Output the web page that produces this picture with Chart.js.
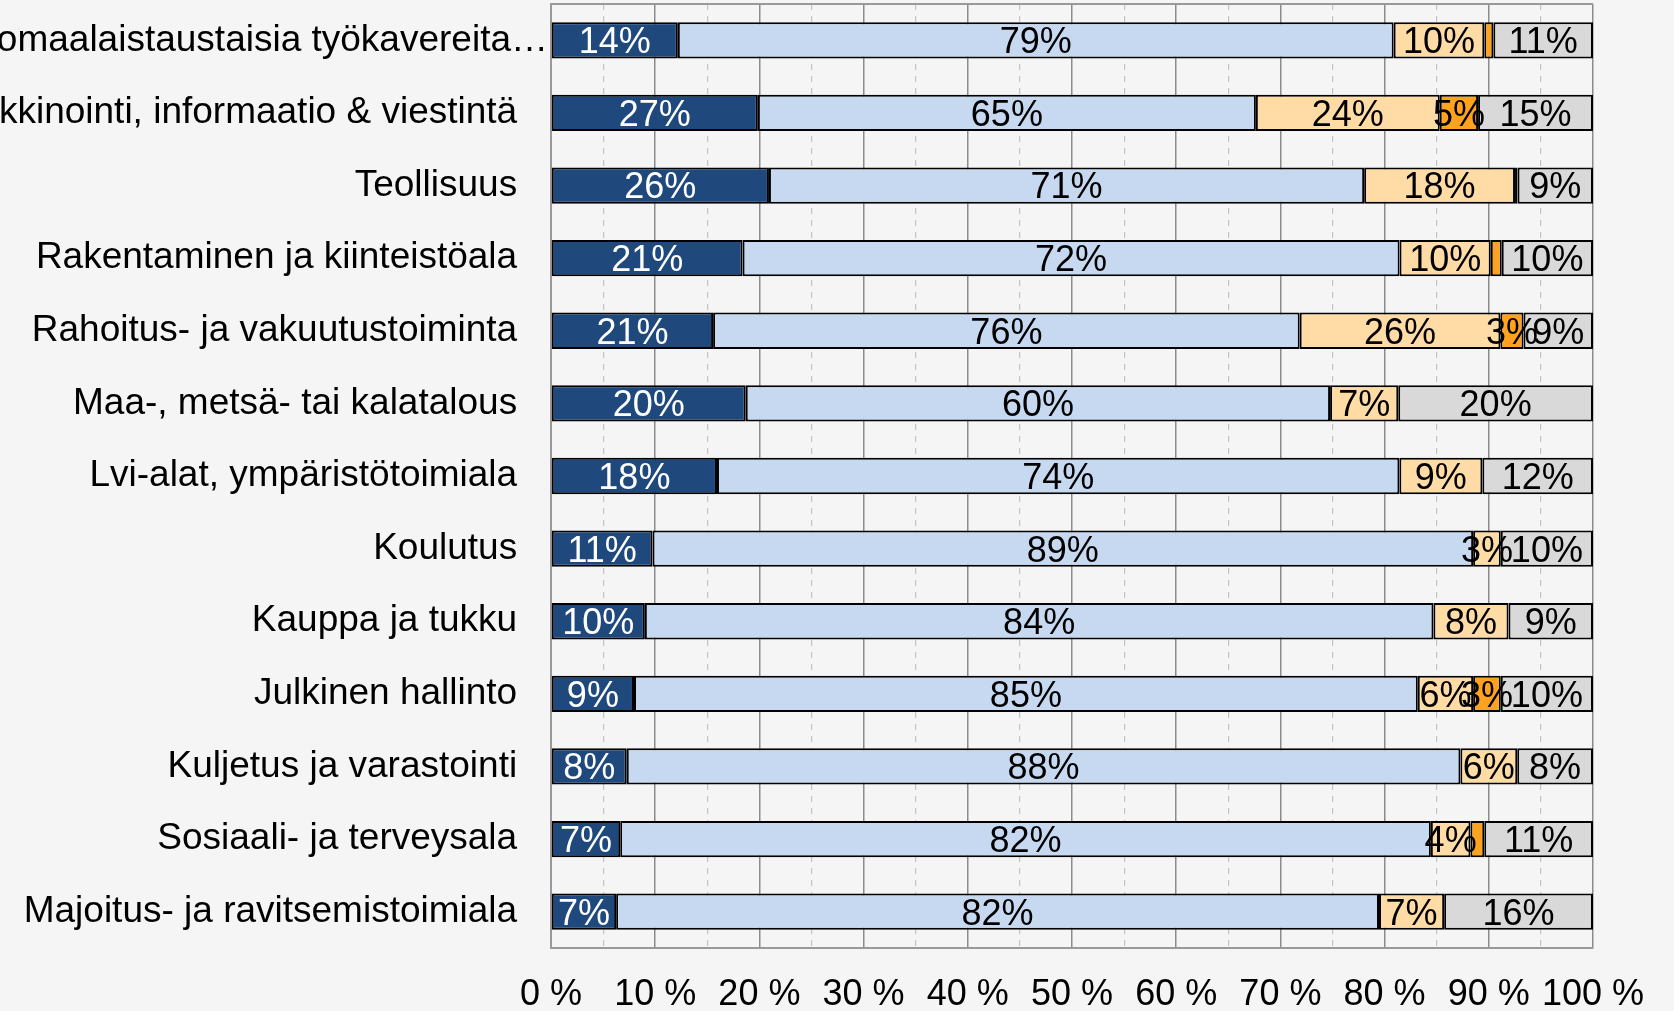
<!DOCTYPE html>
<html>
<head>
<meta charset="utf-8">
<script src="https://cdn.jsdelivr.net/npm/chart.js@4/dist/chart.umd.min.js"></script>
<style>
    html, body { margin: 0; padding: 0; background: #f5f5f5; overflow: hidden; }
    #wrap { position: absolute; left: -120px; top: 0; width: 1794px; height: 1011px; }
</style>
</head>
<body>
<div id="wrap"><canvas id="chart" width="1794" height="1011"></canvas></div>
<script>
const categories = [
    'Ulkomaalaistaustaisia työkavereita…',
    'Markkinointi, informaatio & viestintä',
    'Teollisuus',
    'Rakentaminen ja kiinteistöala',
    'Rahoitus- ja vakuutustoiminta',
    'Maa-, metsä- tai kalatalous',
    'Lvi-alat, ympäristötoimiala',
    'Koulutus',
    'Kauppa ja tukku',
    'Julkinen hallinto',
    'Kuljetus ja varastointi',
    'Sosiaali- ja terveysala',
    'Majoitus- ja ravitsemistoimiala'
];
const series1 = [14, 27, 26, 21, 21, 20, 18, 11, 10, 9, 8, 7, 7];
const series2 = [79, 65, 71, 72, 76, 60, 74, 89, 84, 85, 88, 82, 82];
const series3 = [10, 24, 18, 10, 26, 7, 9, 3, 8, 6, 6, 4, 7];
const series4 = [1, 5, 0.3, 1.2, 3, 0, 0, 0, 0, 3, 0, 1.4, 0];
const series5 = [11, 15, 9, 10, 9, 20, 12, 10, 9, 10, 8, 11, 16];
const xTicks = [0, 10, 20, 30, 40, 50, 60, 70, 80, 90, 100];

const seriesList = [series1, series2, series3, series4, series5];
const seriesColors = ['#1f497d', '#c6d9f1', '#ffdba5', '#ffa31f', '#d9d9d9'];
const labelColors = ['#ffffff', '#000000', '#000000', '#000000', '#000000'];

// rivien summat -> 100 % pinottu
const totals = categories.map((c, i) => seriesList.reduce((s, arr) => s + arr[i], 0));

const FONT = "'Liberation Sans', Arial, sans-serif";

const datasets = seriesList.map((arr, k) => ({
    label: 'Sarja ' + (k + 1),
    data: arr.map((v, i) => v / totals[i] * 100),
    raw: arr,
    backgroundColor: seriesColors[k],
    borderColor: '#000000',
    borderWidth: 2,
    borderSkipped: false,
    categoryPercentage: 1,
    barPercentage: 0.5
}));

const barLabels = {
    id: 'barLabels',
    afterDatasetsDraw(chart) {
        const ctx = chart.ctx;
        ctx.save();
        ctx.font = '36px ' + FONT;
        ctx.textAlign = 'center';
        ctx.textBaseline = 'middle';
        chart.data.datasets.forEach((ds, k) => {
            const meta = chart.getDatasetMeta(k);
            meta.data.forEach((bar, i) => {
                const value = ds.raw[i];
                if (value < 2) return;
                const p = bar.getProps(['x', 'y', 'base'], true);
                ctx.fillStyle = labelColors[k];
                ctx.fillText(Math.round(value) + '%', (p.x + p.base) / 2, p.y + 3);
            });
        });
        ctx.restore();
    }
};

new Chart(document.getElementById('chart'), {
    type: 'bar',
    data: { labels: categories, datasets: datasets },
    options: {
        indexAxis: 'y',
        responsive: false,
        animation: false,
        devicePixelRatio: 1,
        layout: { padding: { top: 4, right: 81, bottom: 0, left: 0 } },
        plugins: {
            legend: { display: false },
            tooltip: { enabled: false }
        },
        scales: {
            x: {
                stacked: true,
                min: 0,
                max: 100,
                afterFit: function (scale) { scale.height = 63; },
                ticks: {
                    stepSize: 5,
                    autoSkip: false,
                    maxRotation: 0,
                    padding: 25,
                    color: '#000',
                    font: { family: FONT, size: 36 },
                    callback: function (v) { return xTicks.includes(v) ? v + ' %' : ''; }
                },
                grid: {
                    drawTicks: false,
                    color: function (c) {
                        return c.tick && c.tick.value % 10 !== 0 ? '#c4c4c4' : '#8c8c8c';
                    },
                    lineWidth: function (c) {
                        return c.tick && c.tick.value % 10 !== 0 ? 1.2 : 1.5;
                    }
                },
                border: {
                    color: '#999999',
                    width: 2,
                    dash: function (c) {
                        return c.tick && c.tick.value % 10 !== 0 ? [6, 6] : [];
                    }
                }
            },
            y: {
                stacked: true,
                afterFit: function (scale) {
                    scale.width = 671;
                    scale.paddingTop = 0;
                    scale.paddingBottom = 0;
                },
                ticks: {
                    autoSkip: false,
                    padding: 3,
                    color: '#000',
                    font: { family: FONT, size: 37 },
                    callback: function (v, i) {
                        const label = this.getLabelForValue(v);
                        return i === 0 ? label : label + '   ';
                    }
                },
                grid: {
                    drawTicks: false,
                    offset: true,
                    color: function (c) { return c.index === 0 ? '#999999' : 'rgba(0,0,0,0)'; },
                    lineWidth: 2
                },
                border: { color: '#999999', width: 2 }
            }
        }
    },
    plugins: [barLabels]
});
</script>
</body>
</html>
